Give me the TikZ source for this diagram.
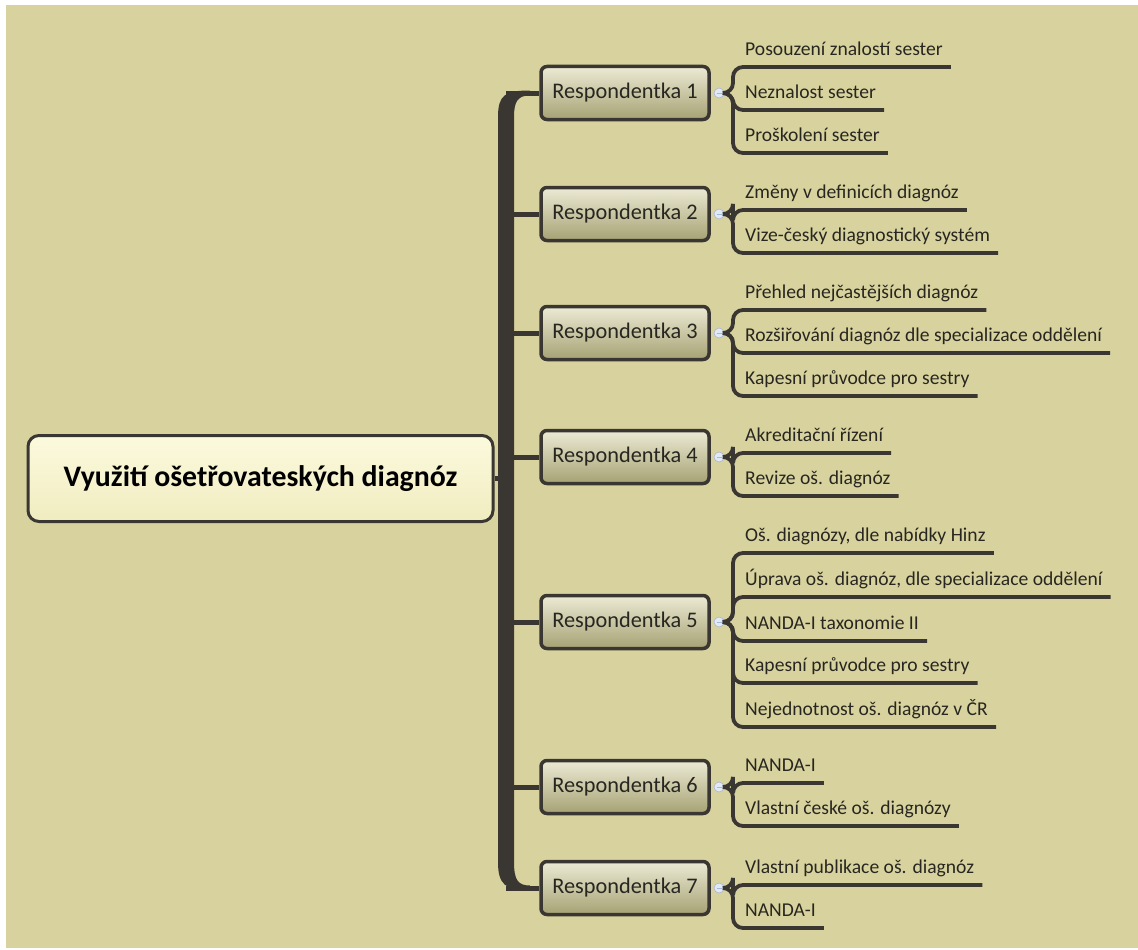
\documentclass[tikz,border=0pt]{standalone}
\usepackage{fontspec}
\setmainfont{Carlito}
\definecolor{paper}{RGB}{216,211,158}
\definecolor{trunk}{RGB}{58,54,50}
\definecolor{ink}{RGB}{40,38,32}
\definecolor{rootfillA}{RGB}{252,250,222}
\definecolor{rootfillB}{RGB}{240,236,192}
\definecolor{respA}{RGB}{236,234,212}
\definecolor{respB}{RGB}{166,162,116}
\definecolor{togglefill}{RGB}{226,233,246}
\definecolor{toggledraw}{RGB}{168,182,214}

% draws one child topic: parent toggle, child name, y of its underline, text, parent y
\newcommand\kid[5]{%
  \node[kidtext, anchor=south west] (#2) at (742,#3) {#4};
  \draw[kidline] (#1.east) -- (733,#5) -- (733,#3) -- ([xshift=5pt]#2.south east);
}

\begin{document}
\begin{tikzpicture}[x=1pt,y=-1pt,
  rootbox/.style={draw=trunk, line width=3pt, rounded corners=11pt,
    top color=rootfillA, bottom color=rootfillB,
    minimum width=465pt, minimum height=86pt,
    font=\fontsize{29.8}{34}\selectfont\bfseries, text=black},
  respbox/.style={draw=trunk, line width=3.5pt, rounded corners=6pt,
    top color=respA, bottom color=respB,
    minimum width=168pt, minimum height=53pt,
    font=\fontsize{22.3}{26}\selectfont, text=ink},
  toggle/.style={circle, fill=togglefill, draw=toggledraw, line width=0.6pt,
    minimum size=10pt, inner sep=0pt,
    path picture={\draw[toggledraw, line width=1pt]
      ([xshift=-2.5pt]path picture bounding box.center) -- ++(5pt,0);}},
  kidtext/.style={font=\fontsize{19.6}{23}\selectfont, text=ink,
    text height=14pt, text depth=4pt, inner xsep=3pt, inner ysep=7.7pt},
  kidline/.style={draw=trunk, line width=3.8pt, rounded corners=10pt},
  branch/.style={draw=trunk, line width=5pt},
  trunkfill/.style={fill=trunk}]

% background
\useasboundingbox (0,0) rectangle (1138,950);
\fill[white] (0,0) rectangle (1138,950);
\fill[paper] (6,5) rectangle (1138,948);

% main vertical trunk, tapering into the first and last branch
\coordinate (tk) at (506,0);
\fill[trunkfill] (530,90.5) .. controls (505,90.5) and (498,95) .. (498,117)
  -- (498,862) .. controls (498,884) and (505,890.5) .. (530,890.5)
  -- (530,885.5) .. controls (518,885.5) and (514,880) .. (514,862)
  -- (514,117) .. controls (514,101) and (518,95.5) .. (530,95.5) -- cycle;

% central topic
\node[rootbox] (root) at (260.5,478.5) {Využití ošetřovateských diagnóz};
\draw[branch] (root.east) -- (tk |- root.east);

% respondents
\node[respbox] (r1) at (625,93) {Respondentka 1};
\node[respbox] (r2) at (625,214) {Respondentka 2};
\node[respbox] (r3) at (625,333) {Respondentka 3};
\node[respbox] (r4) at (625,457) {Respondentka 4};
\node[respbox] (r5) at (625,622) {Respondentka 5};
\node[respbox] (r6) at (625,787) {Respondentka 6};
\node[respbox] (r7) at (625,888) {Respondentka 7};

\foreach \r in {r1,r2,r3,r4,r5,r6,r7}{
  \draw[branch] (tk |- \r.west) -- (\r.west);
}

% collapse toggles
\foreach \r/\y in {r1/93,r2/214,r3/333,r4/457,r5/622,r6/787,r7/888}{
  \node[toggle] (t\r) at (719,\y) {};
}

% children
\kid{tr1}{a1}{67}{Posouzení znalostí sester}{93}
\kid{tr1}{a2}{110}{Neznalost sester}{93}
\kid{tr1}{a3}{153}{Proškolení sester}{93}

\kid{tr2}{b1}{210}{Změny v definicích diagnóz}{214}
\kid{tr2}{b2}{253}{Vize-český diagnostický systém}{214}

\kid{tr3}{c1}{310}{Přehled nejčastějších diagnóz}{333}
\kid{tr3}{c2}{353}{Rozšiřování diagnóz dle specializace oddělení}{333}
\kid{tr3}{c3}{396}{Kapesní průvodce pro sestry}{333}

\kid{tr4}{d1}{453}{Akreditační řízení}{457}
\kid{tr4}{d2}{496}{Revize oš. diagnóz}{457}

\kid{tr5}{e1}{553}{Oš. diagnózy, dle nabídky Hinz}{622}
\kid{tr5}{e2}{597}{Úprava oš. diagnóz, dle specializace oddělení}{622}
\kid{tr5}{e3}{641}{NANDA-I taxonomie II}{622}
\kid{tr5}{e4}{683}{Kapesní průvodce pro sestry}{622}
\kid{tr5}{e5}{727}{Nejednotnost oš. diagnóz v ČR}{622}

\kid{tr6}{f1}{783}{NANDA-I}{787}
\kid{tr6}{f2}{826}{Vlastní české oš. diagnózy}{787}

\kid{tr7}{g1}{885}{Vlastní publikace oš. diagnóz}{888}
\kid{tr7}{g2}{928}{NANDA-I}{888}

\end{tikzpicture}
\end{document}
